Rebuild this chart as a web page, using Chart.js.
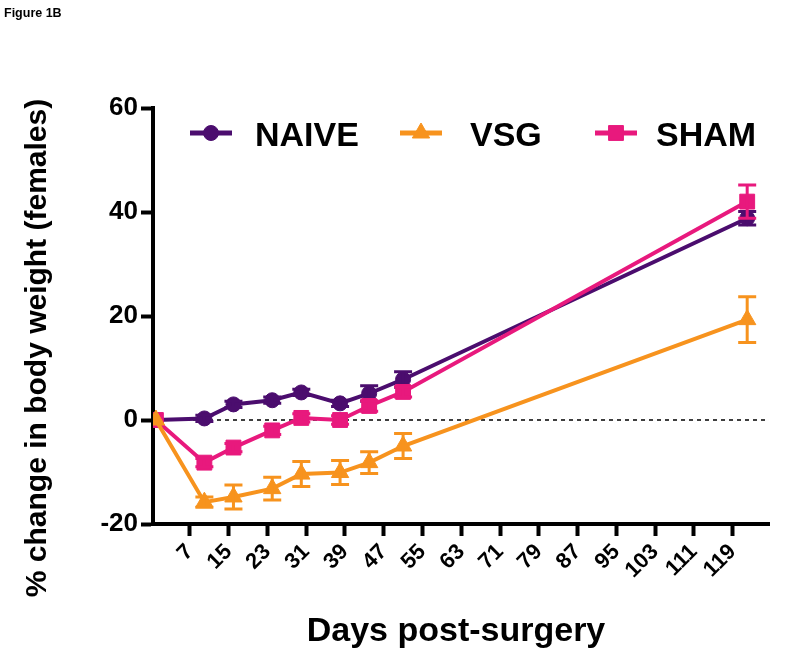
<!DOCTYPE html>
<html>
<head>
<meta charset="utf-8">
<script src="https://cdn.jsdelivr.net/npm/chart.js@4.4.1/dist/chart.umd.min.js"></script>
<style>
  html, body { margin: 0; padding: 0; background: #ffffff; }
  canvas { display: block; }
</style>
</head>
<body>
<canvas id="c" width="800" height="660"></canvas>
<script>
// ---- data ----
const days = [0, 10, 16, 24, 30, 38, 44, 51, 122];
const xTickValues = [7, 15, 23, 31, 39, 47, 55, 63, 71, 79, 87, 95, 103, 111, 119];
const yTickValues = [-20, 0, 20, 40, 60];
const seriesNames = ['NAIVE', 'VSG', 'SHAM'];
const naive    = [0, 0.3, 3.0, 3.8, 5.3, 3.2, 5.1, 7.8, 38.8];
const naiveErr = [0, 0.6, 0.6, 0.6, 0.6, 0.6, 1.5, 1.5, 1.3];
const vsg      = [0, -15.8, -14.8, -13.2, -10.4, -10.1, -8.2, -5.0, 19.3];
const vsgErr   = [0, 1.0, 2.3, 2.2, 2.4, 2.3, 2.1, 2.4, 4.4];
const sham     = [0, -8.2, -5.3, -2.0, 0.4, 0.0, 2.7, 5.4, 42.0];
const shamErr  = [0, 0.8, 0.8, 0.8, 0.8, 0.8, 1.0, 1.0, 3.2];

const colors = { NAIVE: '#4b0d6e', VSG: '#f7931e', SHAM: '#e8197d' };
const FONT = '"Liberation Sans", Arial, Helvetica, sans-serif';

function pts(vals) { return days.map((d, i) => ({ x: d, y: vals[i] })); }

const errors = [naiveErr, vsgErr, shamErr];

const overlay = {
  id: 'overlay',
  beforeDatasetsDraw(chart) {
    const { ctx, chartArea, scales } = chart;
    const y0 = scales.y.getPixelForValue(0);
    ctx.save();
    ctx.strokeStyle = '#000';
    ctx.lineWidth = 1.5;
    ctx.setLineDash([4, 4]);
    ctx.beginPath();
    ctx.moveTo(chartArea.left, y0);
    ctx.lineTo(chartArea.right, y0);
    ctx.stroke();
    ctx.restore();
  },
  afterDatasetDraw(chart, args) {
    const { ctx, scales } = chart;
    const ds = chart.data.datasets[args.index];
    const err = errors[args.index];
    const meta = args.meta;
    ctx.save();
    ctx.strokeStyle = ds.borderColor;
    ctx.lineWidth = 3;
    meta.data.forEach((el, i) => {
      const e = err[i];
      if (!e) return;
      const v = ds.data[i].y;
      const yt = scales.y.getPixelForValue(v + e);
      const yb = scales.y.getPixelForValue(v - e);
      const x = el.x;
      ctx.beginPath();
      ctx.moveTo(x, yt); ctx.lineTo(x, yb);
      ctx.moveTo(x - 9, yt); ctx.lineTo(x + 9, yt);
      ctx.moveTo(x - 9, yb); ctx.lineTo(x + 9, yb);
      ctx.stroke();
    });
    ctx.restore();
  },
  afterDraw(chart) {
    const { ctx } = chart;
    ctx.save();
    // figure label
    ctx.fillStyle = '#000';
    ctx.font = 'bold 12.5px ' + FONT;
    ctx.textAlign = 'left';
    ctx.textBaseline = 'alphabetic';
    ctx.fillText('Figure 1B', 4, 17);

    // legend
    const items = [
      { name: 'NAIVE', style: 'circle', r: 7.5, x1: 190, x2: 232, tx: 255 },
      { name: 'VSG', style: 'triangle', r: 10, x1: 400, x2: 442, tx: 470 },
      { name: 'SHAM', style: 'rect', r: 10.5, x1: 595, x2: 637, tx: 656 }
    ];
    const ly = 133;
    items.forEach(it => {
      const c = colors[it.name];
      ctx.strokeStyle = c;
      ctx.fillStyle = c;
      ctx.lineWidth = 5;
      ctx.beginPath();
      ctx.moveTo(it.x1, ly); ctx.lineTo(it.x2, ly);
      ctx.stroke();
      ctx.lineWidth = 1;
      Chart.helpers.drawPoint(ctx, { pointStyle: it.style, radius: it.r, rotation: 0, borderWidth: 1 }, (it.x1 + it.x2) / 2, ly);
      ctx.fillStyle = '#000';
      ctx.font = 'bold 34px ' + FONT;
      ctx.textAlign = 'left';
      ctx.textBaseline = 'alphabetic';
      ctx.fillText(it.name, it.tx, 146);
    });

    // axis titles
    ctx.fillStyle = '#000';
    ctx.font = 'bold 34px ' + FONT;
    ctx.textAlign = 'center';
    ctx.textBaseline = 'alphabetic';
    ctx.fillText('Days post-surgery', 456, 641);

    ctx.translate(46, 348);
    ctx.rotate(-Math.PI / 2);
    ctx.font = 'bold 30px ' + FONT;
    ctx.fillText('% change in body weight (females)', 0, 0);
    ctx.restore();
  }
};

const mkDs = (name, vals, style, radius, order) => ({
  label: name,
  data: pts(vals),
  borderColor: colors[name],
  backgroundColor: colors[name],
  pointBackgroundColor: colors[name],
  pointBorderColor: colors[name],
  pointBorderWidth: 1,
  pointStyle: style,
  pointRadius: radius,
  borderWidth: 4,
  tension: 0,
  order: order
});

new Chart(document.getElementById('c'), {
  type: 'line',
  data: {
    datasets: [
      mkDs('NAIVE', naive, 'circle', 7.5, 2),
      mkDs('VSG', vsg, 'triangle', 10, 0),
      mkDs('SHAM', sham, 'rect', 10.5, 1)
    ]
  },
  options: {
    responsive: false,
    devicePixelRatio: 1,
    animation: false,
    layout: { padding: { left: 0, top: 108, right: 31, bottom: 0 } },
    plugins: { legend: { display: false }, tooltip: { enabled: false }, title: { display: false } },
    scales: {
      x: {
        type: 'linear',
        min: -0.6,
        max: 126.5,
        afterBuildTicks: s => { s.ticks = xTickValues.map(v => ({ value: v })); },
        afterFit: s => { s.height = 136; },
        ticks: {
          autoSkip: false,
          minRotation: 45,
          maxRotation: 45,
          padding: 3,
          color: '#000',
          font: { family: FONT, size: 22, weight: 'bold' },
          callback: v => String(v)
        },
        grid: { drawOnChartArea: false, drawTicks: true, tickLength: 12, tickWidth: 4, tickColor: '#000' },
        border: { display: true, width: 4, color: '#000' }
      },
      y: {
        min: -20,
        max: 60,
        afterBuildTicks: s => { s.ticks = yTickValues.map(v => ({ value: v })); },
        afterFit: s => { s.width = 153; },
        ticks: {
          padding: 3,
          color: '#000',
          font: { family: FONT, size: 26, weight: 'bold' },
          callback: v => String(v)
        },
        grid: { drawOnChartArea: false, drawTicks: true, tickLength: 12, tickWidth: 4, tickColor: '#000' },
        border: { display: true, width: 4, color: '#000' }
      }
    }
  },
  plugins: [overlay]
});
</script>
</body>
</html>
